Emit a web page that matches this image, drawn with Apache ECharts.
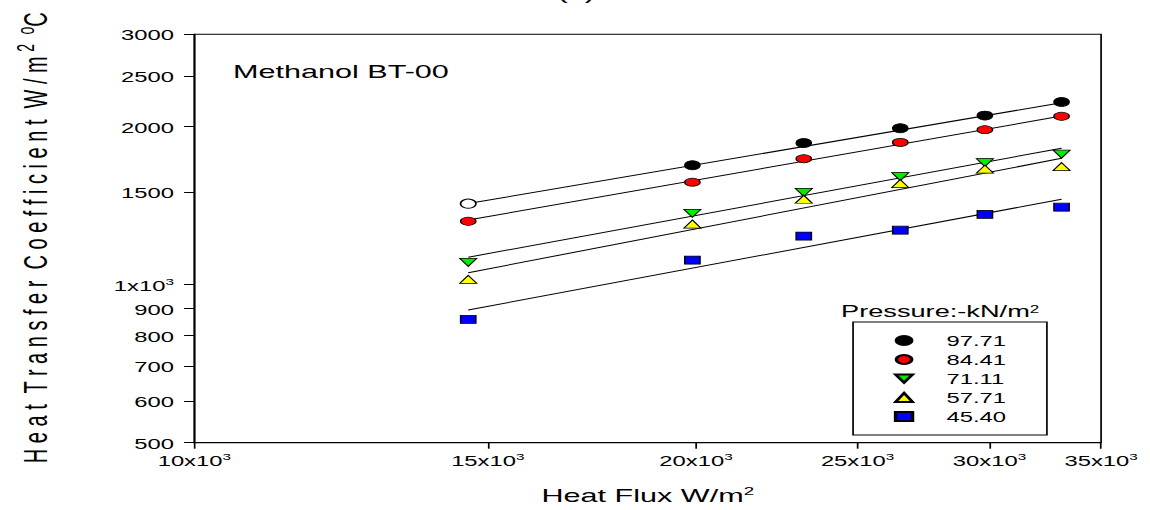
<!DOCTYPE html>
<html>
<head>
<meta charset="utf-8">
<script src="https://cdn.jsdelivr.net/npm/echarts@6/dist/echarts.min.js"></script>
<style>
  html, body { margin: 0; padding: 0; background: #fff; }
  #frame { width: 1150px; height: 510px; overflow: hidden; position: relative; }
  /* the figure is laid out narrow and widened horizontally, as in the printed plot */
  #chart { width: 676.47px; height: 510px; transform: scaleX(1.7); transform-origin: 0 0; }
</style>
</head>
<body>
<div id="frame"><div id="chart"></div></div>
<script>
// Heat flux (W/m^2) at which each run was taken
const heatFlux = [14600, 19900, 23210, 26520, 29810, 33140];

// Heat transfer coefficient (W/m^2 °C) for each pressure (kN/m^2)
const pressures = ['97.71', '84.41', '71.11', '57.71', '45.40'];
const h9771 = [1427, 1689, 1862, 1986, 2100, 2230];
const h8441 = [1321, 1568, 1738, 1867, 1974, 2094];
const h7111 = [1103, 1368, 1500, 1607, 1709, 1773];
const h5771 = [1024, 1305, 1455, 1558, 1660, 1679];
const h4540 = [859, 1114, 1238, 1270, 1362, 1405];

// Power-law fit lines: value at the lowest and highest heat flux
const fitFlux = [14600, 33140];
const fit9771 = [1428, 2222];
const fit8441 = [1328, 2096];
const fit7111 = [1128, 1820];
const fit5771 = [1054, 1741];
const fit4540 = [895, 1455];

// Axis tick values
const xTicks = [10000, 15000, 20000, 25000, 30000, 35000];
const yTicks = [500, 600, 700, 800, 900, 1000, 1500, 2000, 2500, 3000];

const FONT = 'Liberation Sans, Arial, sans-serif';

const seriesValues = [h9771, h8441, h7111, h5771, h4540];
const fitValues = [fit9771, fit8441, fit7111, fit5771, fit4540];
const DOWN_TRIANGLE = 'path://M0,0L10,0L5,8Z';
const markerStyles = [
  { symbol: 'circle', size: [9, 9], rotate: 0, color: '#000000', icon: 'circle' },
  { symbol: 'circle', size: [9, 8], rotate: 0, color: '#ff0000', icon: 'circle' },
  { symbol: 'triangle', size: [10, 8], rotate: 180, color: '#00ee00', icon: DOWN_TRIANGLE },
  { symbol: 'triangle', size: [10, 8], rotate: 0, color: '#ffff00', icon: 'triangle' },
  { symbol: 'rect', size: [9, 8], rotate: 0, color: '#0000ff', icon: 'rect' }
];

const chart = echarts.init(document.getElementById('chart'), null, { renderer: 'svg' });

const series = [];
fitValues.forEach(function (fit, k) {
  series.push({
    type: 'line',
    name: 'fit ' + pressures[k],
    data: fitFlux.map(function (x, i) { return [x, fit[i]]; }),
    showSymbol: false,
    symbol: 'none',
    lineStyle: { color: '#000', width: 1 },
    silent: true,
    z: 2
  });
});
seriesValues.forEach(function (vals, k) {
  const m = markerStyles[k];
  const data = heatFlux.map(function (x, i) { return [x, vals[i]]; });
  if (k === 0) {
    // first 97.71 run is plotted as an open circle
    data[0] = { value: data[0], itemStyle: { color: '#ffffff', borderColor: '#000', borderWidth: 1 } };
  }
  series.push({
    type: 'scatter',
    name: pressures[k],
    data: data,
    symbol: m.symbol,
    symbolSize: m.size,
    symbolRotate: m.rotate,
    itemStyle: { color: m.color, borderColor: '#000', borderWidth: 0.8, opacity: 1 },
    z: 5
  });
});

function xLabel(v) {
  return '{n|' + Math.round(v / 1000) + 'x10}{s|3}';
}
function yLabel(v) {
  if (Math.abs(v - 1000) < 1e-6) return '{n|1x10}{s|3}';
  return '{n|' + Math.round(v) + '}';
}
const labelRich = {
  n: { fontSize: 14, fontFamily: FONT, color: '#000', verticalAlign: 'bottom', lineHeight: 16 },
  s: { fontSize: 9, fontFamily: FONT, color: '#000', verticalAlign: 'bottom', lineHeight: 16, padding: [0, 0, 6, 0] }
};

chart.setOption({
  animation: false,
  backgroundColor: '#ffffff',
  grid: {
    left: 114.3, right: 28.3, top: 34.3, bottom: 67.3,
    show: true, borderColor: '#000', borderWidth: 1, backgroundColor: 'transparent'
  },
  xAxis: {
    type: 'log',
    logBase: 10,
    min: 10000,
    max: 35000,
    axisLine: { show: true, lineStyle: { color: '#000', width: 1 } },
    axisTick: { show: true, length: 6, inside: false, customValues: xTicks, lineStyle: { color: '#000' } },
    axisLabel: { customValues: xTicks, formatter: xLabel, rich: labelRich, margin: 9, showMinLabel: true, showMaxLabel: true },
    splitLine: { show: false },
    minorTick: { show: false },
    name: '{n|Heat Flux W/m}{s|2}',
    nameLocation: 'middle',
    nameGap: 42,
    nameTextStyle: {
      rich: {
        n: { fontSize: 18, fontFamily: FONT, color: '#000', verticalAlign: 'bottom', lineHeight: 20 },
        s: { fontSize: 11, fontFamily: FONT, color: '#000', verticalAlign: 'bottom', lineHeight: 20, padding: [0, 0, 8, 0] }
      }
    }
  },
  yAxis: {
    type: 'log',
    logBase: 10,
    min: 500,
    max: 3000,
    axisLine: { show: true, lineStyle: { color: '#000', width: 1 } },
    axisTick: { show: true, length: 6, inside: false, customValues: yTicks, lineStyle: { color: '#000' } },
    axisLabel: { customValues: yTicks, formatter: yLabel, rich: labelRich, margin: 12, showMinLabel: true, showMaxLabel: true },
    splitLine: { show: false },
    minorTick: { show: false }
  },
  legend: {
    data: pressures.map(function (p, k) { return { name: p, icon: markerStyles[k].icon }; }),
    orient: 'vertical',
    left: 501.8,
    top: 322,
    padding: [11, 24, 11, 24],
    itemGap: 4,
    itemWidth: 10,
    itemHeight: 9,
    borderColor: '#000',
    borderWidth: 1,
    backgroundColor: '#fff',
    textStyle: { fontSize: 14, fontFamily: FONT, color: '#000', lineHeight: 15, padding: [0, 0, 0, 15] },
    selectedMode: false
  },
  graphic: [
    {
      type: 'text', x: 339, y: 2,
      style: { text: '(a)', font: '18px ' + FONT, fill: '#000', textAlign: 'center', textVerticalAlign: 'bottom' }
    },
    {
      type: 'text', x: 137, y: 72,
      style: { text: 'Methanol BT-00', font: '18px ' + FONT, fill: '#000', textAlign: 'left', textVerticalAlign: 'middle' }
    },
    {
      type: 'text', x: 553, y: 311,
      style: {
        text: '{n|Pressure:-kN/m}{s|2}',
        textAlign: 'center', textVerticalAlign: 'middle',
        rich: {
          n: { fontSize: 16, fontFamily: FONT, fill: '#000', verticalAlign: 'bottom', lineHeight: 18 },
          s: { fontSize: 10, fontFamily: FONT, fill: '#000', verticalAlign: 'bottom', lineHeight: 18, padding: [0, 0, 6, 0] }
        }
      }
    },
    {
      type: 'text', x: 20, y: 238, rotation: Math.PI / 2,
      style: {
        text: '{n|H e a t  T r a n s f e r  C o e f f i c i e n t  W / m}{s| 2 }{n| }{s|o}{n|C}',
        textAlign: 'center', textVerticalAlign: 'middle',
        rich: {
          n: { fontSize: 20, fontFamily: FONT, fill: '#000', verticalAlign: 'bottom', lineHeight: 22 },
          s: { fontSize: 14, fontFamily: FONT, fill: '#000', verticalAlign: 'bottom', lineHeight: 22, padding: [0, 0, 9, 0] }
        }
      }
    }
  ],
  series: series
});
</script>
</body>
</html>
